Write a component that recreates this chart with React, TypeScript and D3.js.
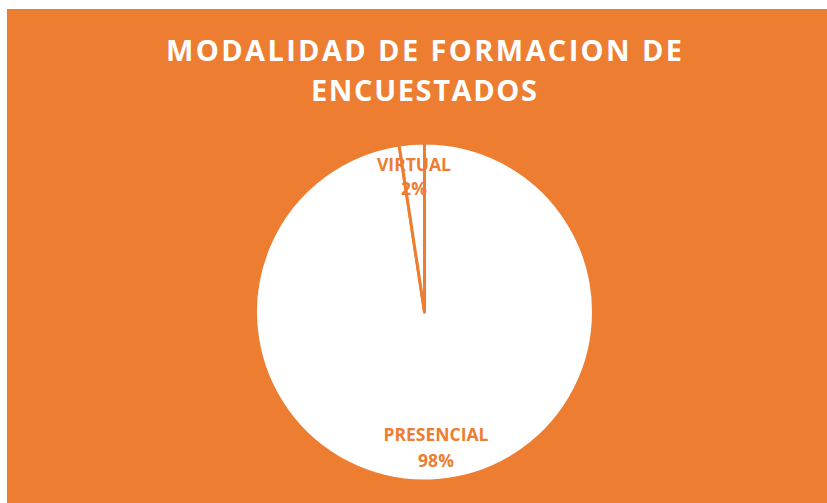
import React from "react";
import * as d3 from "d3";

const titleLines = ["MODALIDAD DE FORMACION DE", "ENCUESTADOS"];
const categories = ["PRESENCIAL", "VIRTUAL"];
const values = [97.6, 2.4];

const W = 827;
const H = 503;
const ORANGE = "#ED7D31";

export default function App() {
  const cx = 424.5;
  const cy = 312;
  const r = 169;
  const data = categories.map((c, i) => ({ name: c, value: values[i] }));
  const pie = d3.pie<any>().sort(null).value((d: any) => d.value);
  const arcs = pie(data);
  const arc = d3.arc<any>().innerRadius(0).outerRadius(r);
  const total = d3.sum(values);
  const labelPos = [
    { x: 436, y1: 441, y2: 467 },
    { x: 414, y1: 171, y2: 195 },
  ];
  return (
    <svg
      width={W}
      height={H}
      style={{ position: "absolute", left: 0, top: 0, display: "block" }}
    >
      <rect x={0} y={0} width={W} height={H} fill="#fff" />
      <rect x={7} y={9} width={W - 7} height={H - 9} fill={ORANGE} />
      <g fontFamily="'Open Sans', sans-serif" fontWeight={700} fill="#fff" textAnchor="middle">
        <text x={424} y={61} fontSize={29} textLength={516} lengthAdjust="spacing">
          {titleLines[0]}
        </text>
        <text x={424} y={101} fontSize={29} textLength={226} lengthAdjust="spacing">
          {titleLines[1]}
        </text>
      </g>
      <g transform={`translate(${cx},${cy})`}>
        {arcs.map((a, i) => (
          <path key={i} d={arc(a) || ""} fill="#fff" stroke={ORANGE} strokeWidth={3} strokeLinejoin="round" />
        ))}
      </g>
      <g fontFamily="'Open Sans', sans-serif" fontWeight={700} fill={ORANGE} textAnchor="middle" fontSize={17.5}>
        {data.map((d, i) => (
          <g key={d.name}>
            <text x={labelPos[i].x} y={labelPos[i].y1}>{d.name}</text>
            <text x={labelPos[i].x} y={labelPos[i].y2}>{Math.round((d.value / total) * 100)}%</text>
          </g>
        ))}
      </g>
    </svg>
  );
}
